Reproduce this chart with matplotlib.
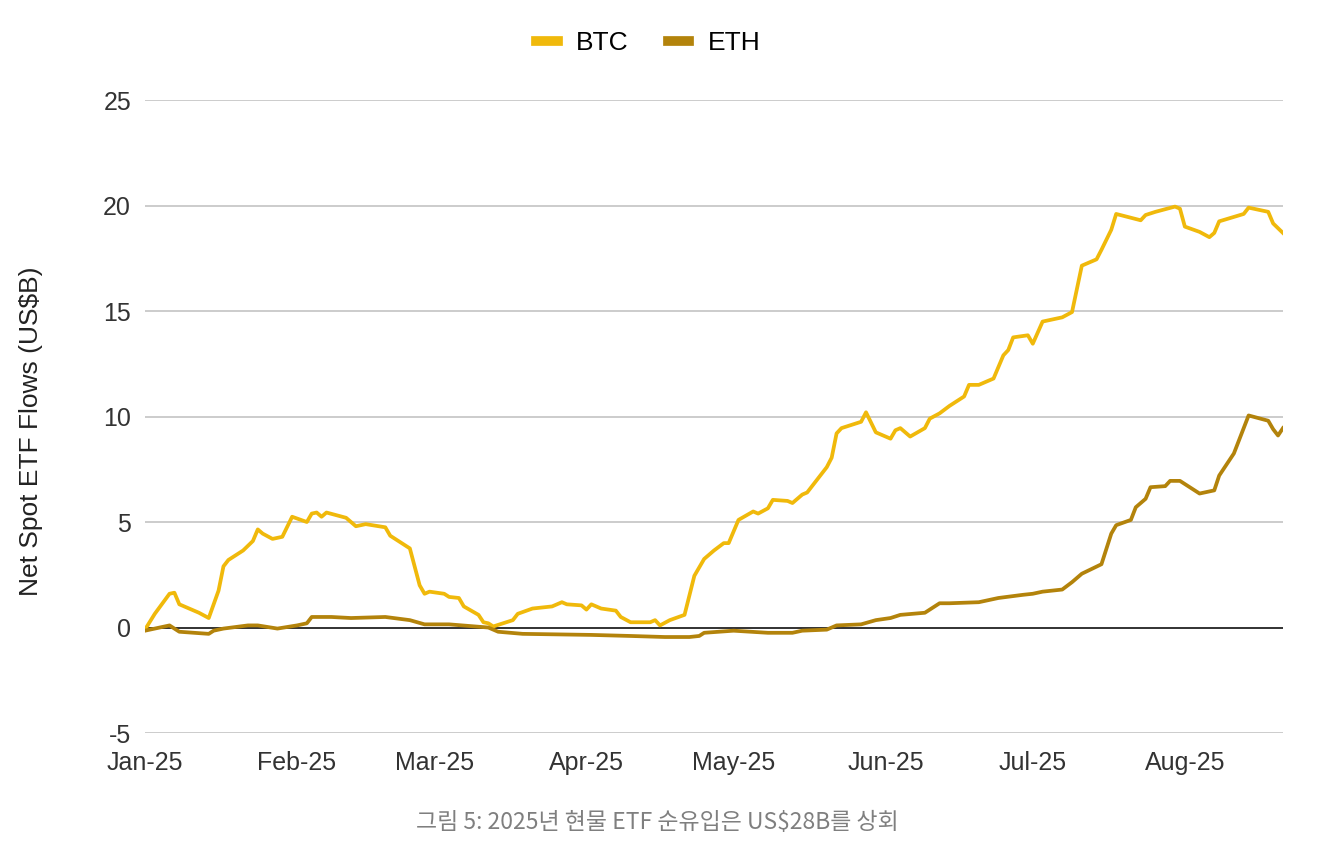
import numpy as np
import matplotlib
matplotlib.use("Agg")
import matplotlib.pyplot as plt
import matplotlib.dates as mdates

plt.rcParams['font.family'] = ['Liberation Sans', 'DejaVu Sans']
plt.rcParams['axes.unicode_minus'] = False

# 데이터: 2025-01-01 기준 경과일, 누적 순유입 (US$B)
btc_day = [0, 2, 5, 6, 7, 11, 13, 15, 16, 17, 20, 22, 23, 24, 26, 28, 30, 33, 34, 35,
           36, 37, 41, 43, 45, 49, 50, 51, 54, 56, 57, 58, 61, 62, 64, 65, 68, 69, 70, 71,
           75, 76, 79, 83, 85, 86, 89, 90, 91, 93, 96, 97, 99, 103, 104, 105, 107, 110, 112, 114,
           116, 118, 119, 121, 124, 125, 127, 128, 131, 132, 134, 135, 138, 139, 140, 141, 142, 146, 147, 149,
           152, 153, 154, 156, 159, 160, 162, 164, 167, 168, 170, 173, 175, 176, 177, 180, 181, 183, 187, 189,
           191, 194, 195, 197, 198, 203, 204, 206, 210, 211, 212, 215, 217, 218, 219, 224, 225, 229, 230, 232]
btc_val = [-0.1, 0.65, 1.6, 1.65, 1.1, 0.7, 0.45, 1.75, 2.9, 3.2, 3.65, 4.1, 4.65, 4.45, 4.2, 4.3, 5.25, 5.0, 5.4, 5.45,
           5.25, 5.45, 5.2, 4.8, 4.9, 4.75, 4.35, 4.2, 3.75, 2.0, 1.6, 1.7, 1.6, 1.45, 1.4, 1.0, 0.6, 0.25, 0.2, 0.05,
           0.35, 0.65, 0.9, 1.0, 1.2, 1.1, 1.05, 0.85, 1.1, 0.9, 0.8, 0.5, 0.25, 0.25, 0.35, 0.1, 0.35, 0.6, 2.45, 3.25,
           3.65, 4.0, 4.0, 5.1, 5.5, 5.4, 5.65, 6.05, 6.0, 5.9, 6.3, 6.4, 7.3, 7.6, 8.05, 9.2, 9.45, 9.75, 10.2, 9.25,
           8.95, 9.35, 9.45, 9.05, 9.45, 9.9, 10.15, 10.5, 10.95, 11.5, 11.5, 11.8, 12.9, 13.15, 13.75, 13.85, 13.45, 14.5, 14.7, 14.95,
           17.15, 17.45, 17.9, 18.85, 19.6, 19.3, 19.55, 19.7, 19.95, 19.85, 19.0, 18.75, 18.5, 18.7, 19.25, 19.6, 19.9, 19.7, 19.15, 18.7]

eth_day = [0, 5, 7, 13, 14, 16, 21, 23, 27, 31, 33, 34, 38, 42, 49, 54, 57, 62, 70, 72,
           77, 91, 99, 106, 111, 113, 114, 120, 127, 132, 134, 139, 141, 146, 149, 152, 154, 159, 162, 164,
           170, 174, 179, 181, 183, 187, 189, 191, 195, 197, 198, 201, 202, 204, 205, 208, 209, 211, 215, 218,
           219, 222, 223, 225, 229, 230, 231, 232]
eth_val = [-0.15, 0.1, -0.2, -0.3, -0.15, -0.05, 0.1, 0.1, -0.05, 0.1, 0.2, 0.5, 0.5, 0.45, 0.5, 0.35, 0.15, 0.15, 0.0, -0.2,
           -0.3, -0.35, -0.4, -0.45, -0.45, -0.4, -0.25, -0.15, -0.25, -0.25, -0.15, -0.1, 0.1, 0.15, 0.35, 0.45, 0.6, 0.7, 1.15, 1.15,
           1.2, 1.4, 1.55, 1.6, 1.7, 1.8, 2.15, 2.55, 3.0, 4.45, 4.85, 5.1, 5.7, 6.1, 6.65, 6.7, 6.95, 6.95, 6.35, 6.5,
           7.2, 8.25, 8.85, 10.05, 9.8, 9.4, 9.1, 9.45]

start = np.datetime64('2025-01-01')
btc_dates = start + np.array(btc_day).astype('timedelta64[D]')
eth_dates = start + np.array(eth_day).astype('timedelta64[D]')

fig = plt.figure(figsize=(13.18, 8.49), dpi=100)
ax = fig.add_axes([0.110, 0.1366, 0.8634, 0.7456])

ax.plot(btc_dates, btc_val, color='#F0B90B', lw=2.7, label='BTC', zorder=3)
ax.plot(eth_dates, eth_val, color='#B3830B', lw=2.7, label='ETH', zorder=3)

ax.set_ylim(-5, 25)
ax.set_yticks(range(-5, 26, 5))
ax.set_xlim(start, np.datetime64('2025-08-21'))
ax.xaxis.set_major_locator(mdates.MonthLocator())
ax.xaxis.set_major_formatter(mdates.DateFormatter('%b-%y'))

ax.grid(axis='y', color='#cccccc', lw=1.4, zorder=0)
ax.axhline(0, color='#333333', lw=1.4, zorder=2)
for s in ax.spines.values():
    s.set_visible(False)
ax.tick_params(length=0, labelsize=18, labelcolor='#333333')
ax.tick_params(axis='y', pad=10)
ax.tick_params(axis='x', pad=13)

fig.text(31 / 1318, 0.4923, 'Net Spot ETF Flows (US$B)', rotation=90, ha='center', va='center',
         fontsize=19, color='#222222')

fig.legend(loc='center', bbox_to_anchor=(0.492, 0.949), ncol=2, frameon=False,
           fontsize=19, handlelength=0.8, handletextpad=0.7, columnspacing=1.5)
for line in fig.legends[0].get_lines():
    line.set_linewidth(7)

fig.text(0.499, 0.031, '그림 5: 2025년 현물 ETF 순유입은 US$28B를 상회', ha='center', va='center',
         fontsize=16.5, color='#7f7f7f', style='italic',
         family=['Noto Sans CJK KR', 'DejaVu Sans'])

fig.savefig('out.png', dpi=100)
